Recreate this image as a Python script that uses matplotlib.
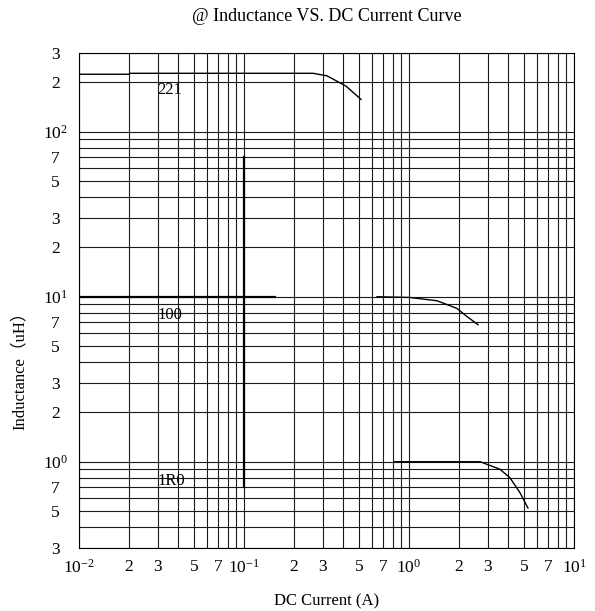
import numpy as np
import matplotlib
matplotlib.use("Agg")
import matplotlib.pyplot as plt

plt.rcParams["font.family"] = ["Liberation Serif", "Noto Sans CJK SC", "DejaVu Sans"]
plt.rcParams["mathtext.fontset"] = "custom"
plt.rcParams["mathtext.rm"] = "Liberation Serif"
plt.rcParams["mathtext.it"] = "Liberation Serif:italic"

# Curves (current in A, inductance in uH)
curve_221_x = [0.01, 0.02, 0.0205, 0.262, 0.319, 0.415, 0.512]
curve_221_y = [223, 223, 226, 226, 218, 189, 157]

curve_100a_x = [0.01, 0.154]
curve_100a_y = [10.0, 10.0]
curve_100b_x = [0.64, 1.01, 1.48, 1.95, 2.25, 2.62]
curve_100b_y = [10.0, 9.9, 9.45, 8.5, 7.57, 6.77]

curve_1r0_x = [0.82, 2.7, 3.56, 4.09, 4.71, 5.26]
curve_1r0_y = [1.0, 1.0, 0.90, 0.80, 0.648, 0.524]

stray_x = [0.1, 0.1]
stray_y = [70, 0.7]

part_names = ["221", "100", "1R0"]
part_label_y = [179, 7.8, 0.76]
part_label_x = 0.03

x_major = [0.01, 0.1, 1, 10]
x_major_labels = [r"$\mathregular{10^{-2}}$", r"$\mathregular{10^{-1}}$",
                  r"$\mathregular{10^{0}}$", r"$\mathregular{10^{1}}$"]
y_major = [1, 10, 100]
y_major_labels = [r"$\mathregular{10^{0}}$", r"$\mathregular{10^{1}}$",
                  r"$\mathregular{10^{2}}$"]
labelled_minor = [2, 3, 5, 7]
plain_minor = [4, 6, 8, 9]

fig = plt.figure(figsize=(5.95, 6.11), dpi=100)
ax = fig.add_axes([79 / 595, 63 / 611, 495 / 595, 495 / 611])

ax.set_xscale("log")
ax.set_yscale("log")
ax.set_xlim(0.01, 10)
ax.set_ylim(0.3, 300)

# ticks: labelled ones as "major", the rest only as grid lines
x_lab_ticks, x_lab_text = [], []
for dec, lab in zip(x_major, x_major_labels):
    x_lab_ticks.append(dec)
    x_lab_text.append(lab)
    if dec < 10:
        for m in labelled_minor:
            x_lab_ticks.append(dec * m)
            x_lab_text.append(str(m))
x_other = [d * m for d in x_major[:-1] for m in plain_minor]

y_lab_ticks, y_lab_text = [], []
for dec in [0.1, 1, 10, 100]:
    for m in labelled_minor:
        v = dec * m
        if 0.3 <= v <= 300:
            y_lab_ticks.append(v)
            y_lab_text.append(str(m))
for v, lab in zip(y_major, y_major_labels):
    y_lab_ticks.append(v)
    y_lab_text.append(lab)
y_other = [d * m for d in [0.1, 1, 10, 100] for m in plain_minor if 0.3 <= d * m <= 300]

ax.set_xticks(x_lab_ticks, x_lab_text)
ax.set_xticks(x_other, minor=True)
ax.set_yticks(y_lab_ticks, y_lab_text)
ax.set_yticks(y_other, minor=True)
ax.xaxis.set_minor_formatter(matplotlib.ticker.NullFormatter())
ax.yaxis.set_minor_formatter(matplotlib.ticker.NullFormatter())

ax.tick_params(which="both", length=0)
ax.tick_params(axis="x", pad=8, labelsize=12.5)
ax.tick_params(axis="y", pad=17, labelsize=12.5)
for t in ax.get_yticklabels():
    t.set_horizontalalignment("center")

ax.grid(which="both", color="#1a1a1a", linewidth=0.8)
for s in ax.spines.values():
    s.set_linewidth(0.8)

ax.plot(curve_221_x, curve_221_y, color="black", lw=1.0)
ax.plot(curve_100a_x, curve_100a_y, color="black", lw=1.6)
ax.plot(curve_100b_x, curve_100b_y, color="black", lw=1.0)
ax.plot(curve_1r0_x, curve_1r0_y, color="black", lw=1.0)
ax.plot(stray_x, stray_y, color="black", lw=1.6)

for name, yv in zip(part_names, part_label_y):
    ax.text(part_label_x, yv, name, ha="left", va="center", fontsize=12)

ax.set_title("@ Inductance VS. DC Current Curve", fontsize=13, pad=23)
ax.set_xlabel("DC Current (A)", fontsize=12, labelpad=12)
ax.set_ylabel("Inductance（uH）", fontsize=12)
ax.yaxis.set_label_coords(-0.103, 0.366)

fig.savefig("out.png", dpi=100)
